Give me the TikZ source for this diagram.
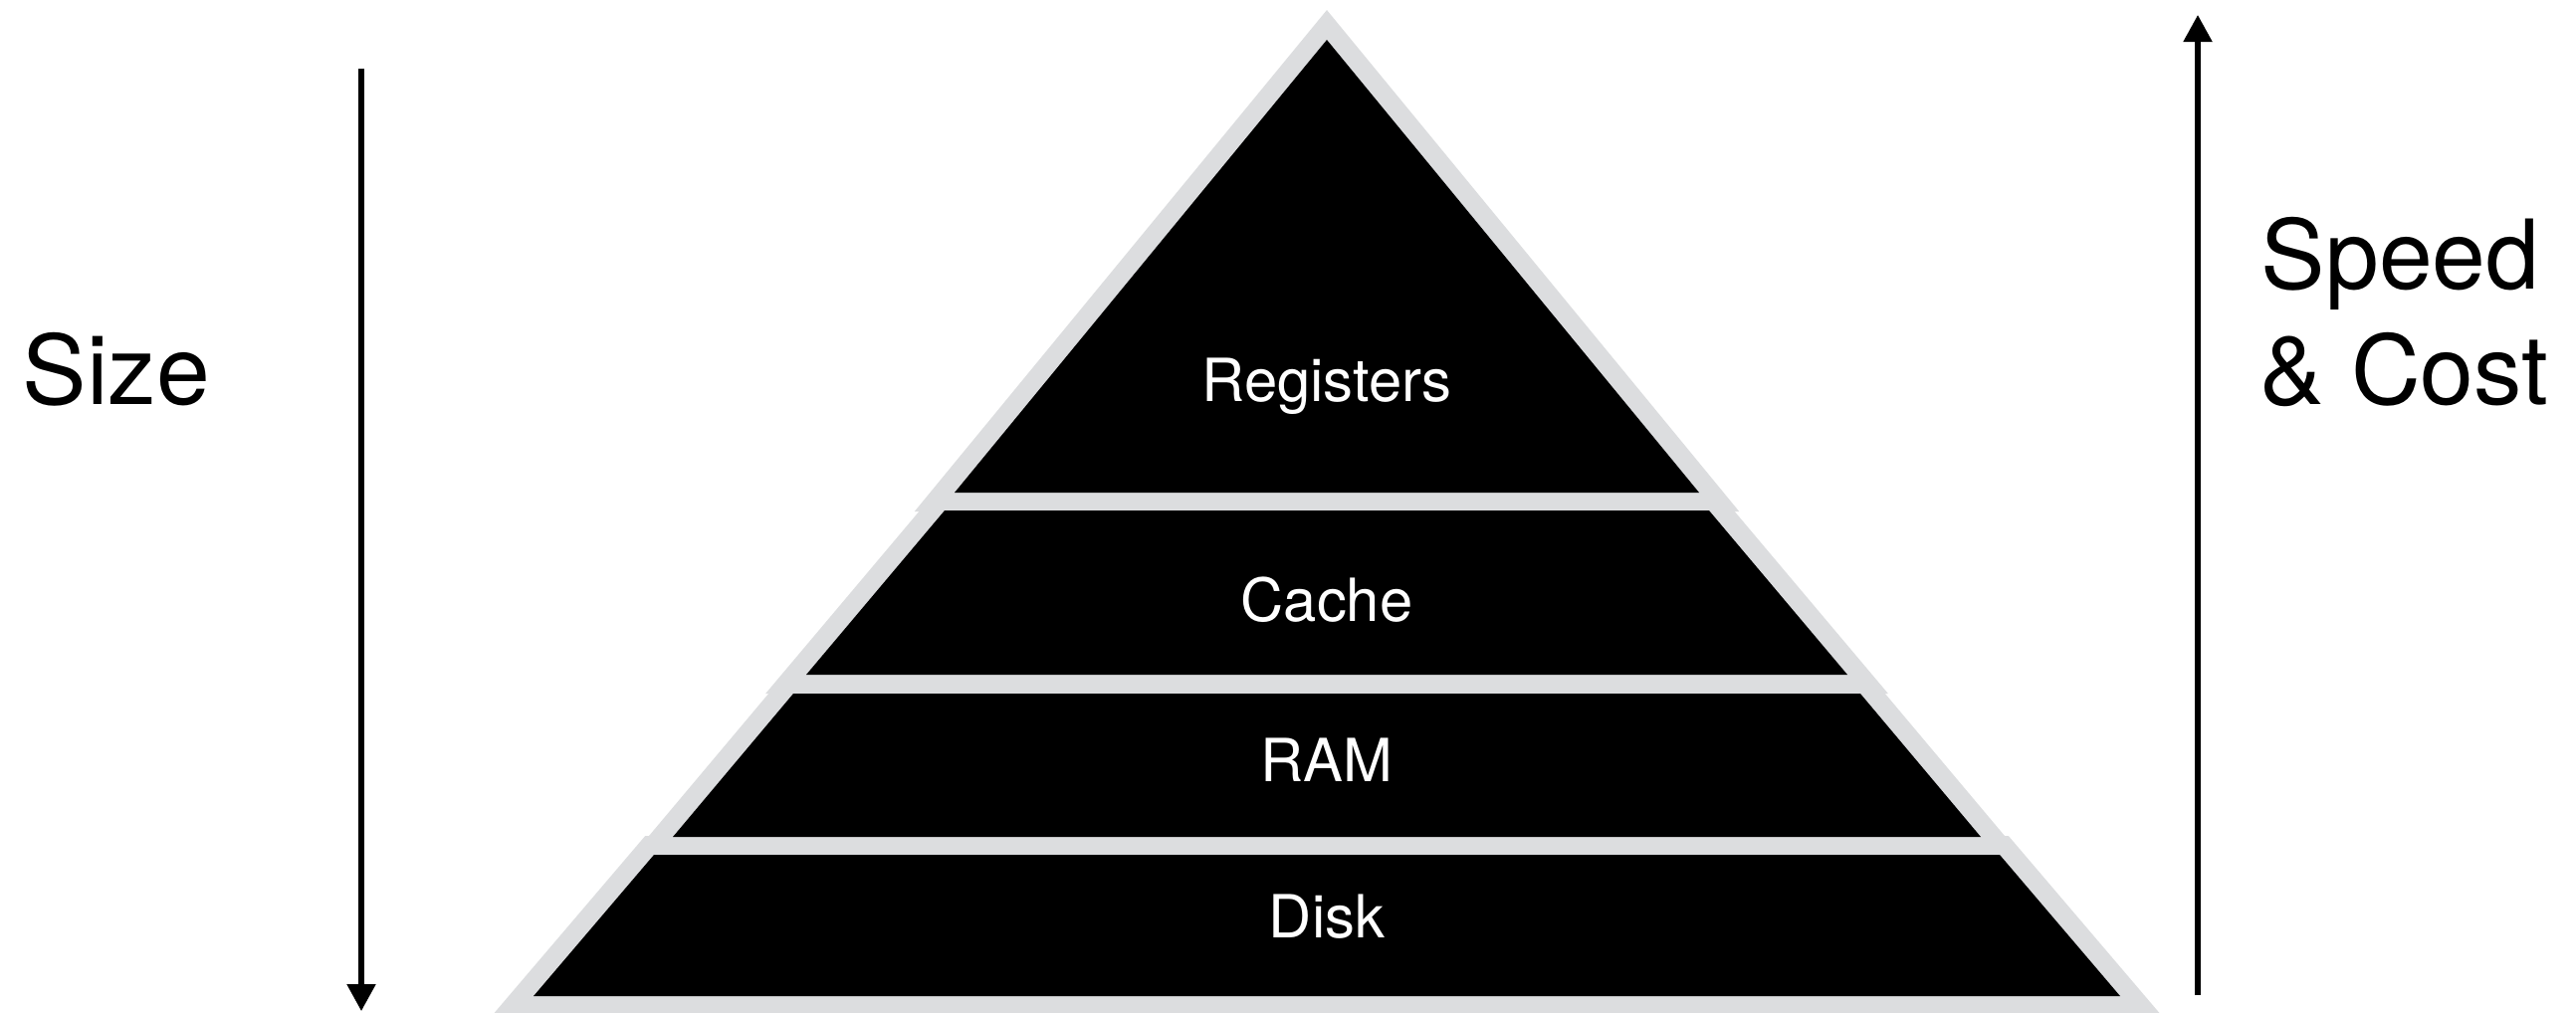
\documentclass[tikz,border=0pt]{standalone}
\usepackage{fontspec}
\setmainfont{TeX Gyre Heros}
\usetikzlibrary{arrows.meta}
\definecolor{rim}{RGB}{220,221,223}
\begin{document}
\begin{tikzpicture}[x=0.01cm,y=-0.01cm,
  rimline/.style={draw=rim,line width=0.38cm,line join=miter},
  layerfill/.style={fill=black},
  axis/.style={line width=0.052cm,-{Triangle[length=0.27cm,width=0.28cm]}},
  inlabel/.style={text=white,font=\fontsize{17}{20}\selectfont,anchor=base,inner sep=0pt},
  sidelabel/.style={font=\fontsize{27.5}{33}\selectfont,anchor=base west,inner sep=0pt}]
\useasboundingbox (0,0) rectangle (2588,1017);
\fill[white] (0,0) rectangle (2588,1017);
% gray rims
\draw[rimline] (1333,40) -- (1707,495) -- (959,495) -- cycle;
\draw[rimline] (949,513) -- (1717,513) -- (1856,678) -- (810,678) -- cycle;
\draw[rimline] (797,697) -- (1869,697) -- (1990,841) -- (676,841) -- cycle;
\draw[rimline] (657,859) -- (2009,859) -- (2130,1001) -- (536,1001) -- cycle;
% black layers
\fill[layerfill] (1333,40) -- (1707,495) -- (959,495) -- cycle;
\fill[layerfill] (949,513) -- (1717,513) -- (1856,678) -- (810,678) -- cycle;
\fill[layerfill] (797,697) -- (1869,697) -- (1990,841) -- (676,841) -- cycle;
\fill[layerfill] (657,859) -- (2009,859) -- (2130,1001) -- (536,1001) -- cycle;
% labels
\node[inlabel] (registers) at (1333,403) {Registers};
\node[inlabel] (cache) at (1333,624) {Cache};
\node[inlabel] (ram) at (1333,785) {RAM};
\node[inlabel] (disk) at (1333,942) {Disk};
\node[sidelabel] (size) at (22,406) {Size};
\node[sidelabel] (speed) at (2271,290) {Speed};
\node[sidelabel] (cost) at (2270,406) {\& Cost};
% axes
\coordinate (sizetop) at (363,69);
\coordinate (sizebot) at (363,1016);
\coordinate (costbot) at (2208,1000);
\coordinate (costtop) at (2208,15);
\draw[axis] (sizetop) -- (sizebot);
\draw[axis] (costbot) -- (costtop);
\end{tikzpicture}
\end{document}
